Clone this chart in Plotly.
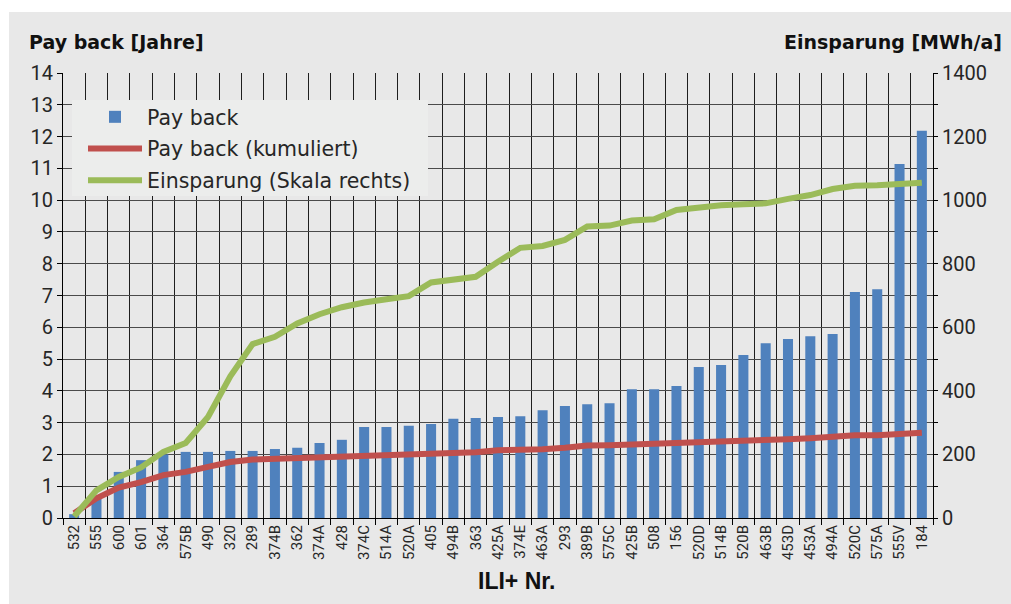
import plotly.graph_objects as go

# ILI+ project numbers, sorted by payback period
categories = ["532", "555", "600", "601", "364", "575B", "490", "320", "289", "374B",
              "362", "374A", "428", "374C", "514A", "520A", "405", "494B", "363", "425A",
              "374E", "463A", "293", "389B", "575C", "425B", "508", "156", "520D", "514B",
              "520B", "463B", "453D", "453A", "494A", "520C", "575A", "555V", "184"]

# Payback per project [years]
payback = [0.12, 0.70, 1.45, 1.82, 2.00, 2.08, 2.08, 2.11, 2.11, 2.17,
           2.21, 2.36, 2.46, 2.86, 2.86, 2.90, 2.96, 3.12, 3.15, 3.18,
           3.20, 3.39, 3.52, 3.58, 3.61, 4.05, 4.05, 4.15, 4.75, 4.81,
           5.13, 5.50, 5.63, 5.72, 5.79, 7.11, 7.20, 11.14, 12.18]

# Cumulative payback [years]
payback_cum = [0.15, 0.62, 0.96, 1.13, 1.35, 1.45, 1.61, 1.76, 1.84, 1.86,
               1.88, 1.89, 1.93, 1.95, 1.97, 1.97, 2.03, 2.05, 2.07, 2.13,
               2.14, 2.16, 2.21, 2.28, 2.29, 2.31, 2.32, 2.38, 2.39, 2.41,
               2.42, 2.45, 2.48, 2.51, 2.57, 2.60, 2.60, 2.62, 2.68]

# Cumulative savings [MWh/a], right-hand scale
savings = [5, 87, 129, 159, 208, 236, 318, 446, 547, 570,
           612, 641, 663, 678, 688, 698, 741, 749, 759, 806,
           850, 856, 875, 917, 920, 936, 940, 969, 978, 984,
           987, 990, 1004, 1016, 1035, 1045, 1047, 1050, 1055]

left_ticks = list(range(0, 15))
right_ticks = list(range(0, 1401, 100))
right_labels = [str(v) if v % 200 == 0 else "" for v in right_ticks]

BLUE = "#4f81bd"
RED = "#c0504d"
GREEN = "#9bbb59"
FONT = "Roboto, 'Liberation Sans', sans-serif"
WIDE_FONT = "'DejaVu Sans', 'Liberation Sans', sans-serif"
TXT = "#262626"

fig = go.Figure()

fig.add_trace(go.Bar(
    x=categories, y=payback, name="Pay back",
    marker=dict(color=BLUE, line=dict(width=0)),
    legendgroup="a", yaxis="y",
))
fig.add_trace(go.Scatter(
    x=categories, y=payback_cum, name="Pay back (kumuliert)",
    mode="lines", line=dict(color=RED, width=6),
    legendgroup="b", yaxis="y",
))
fig.add_trace(go.Scatter(
    x=categories, y=savings, name="Einsparung (Skala rechts)",
    mode="lines", line=dict(color=GREEN, width=6),
    legendgroup="c", yaxis="y2",
))

L, R, T, B = 63, 78, 73, 86
W, H = 1011, 604
pw, ph = W - L - R, H - T - B


def px_x(px):
    return (px - L) / pw


def px_y(py):
    return (H - B - py) / ph


fig.update_layout(
    width=W, height=H,
    margin=dict(l=L, r=R, t=T, b=B, pad=0),
    paper_bgcolor="white",
    plot_bgcolor="rgba(0,0,0,0)",
    bargap=0.55,
    font=dict(family=FONT, color=TXT, size=18),
    xaxis=dict(
        type="category", tickson="boundaries", showgrid=True,
        gridcolor="#1e1e1e", gridwidth=1,
        ticks="outside", ticklen=6, tickcolor="#000",
        tickangle=-90, tickfont=dict(size=15, color=TXT),
        showline=True, linecolor="#000", linewidth=1,
        range=[-0.5, len(categories) - 0.5],
    ),
    yaxis=dict(
        range=[0, 14], tickvals=left_ticks,
        showgrid=True, gridcolor="#4a4a4a", gridwidth=1.2,
        zeroline=False, showline=True, linecolor="#000", linewidth=1,
        ticks="outside", ticklen=5, tickcolor="#000",
        tickfont=dict(size=20, color=TXT),
    ),
    yaxis2=dict(
        range=[0, 1400], overlaying="y", side="right",
        tickvals=right_ticks, ticktext=right_labels,
        showgrid=False, zeroline=False,
        showline=True, linecolor="#000", linewidth=1,
        ticks="outside", ticklen=4, tickcolor="#000",
        tickfont=dict(size=20, color=TXT),
    ),
    showlegend=True,
    legend=dict(
        x=px_x(83), y=px_y(97), xanchor="left", yanchor="top",
        bgcolor="rgba(0,0,0,0)", borderwidth=0,
        font=dict(size=20.5, color=TXT, family=WIDE_FONT),
        traceorder="grouped", tracegroupgap=2,
        itemwidth=54,
    ),
    shapes=[
        # light grey panel behind the whole chart
        dict(type="rect", xref="paper", yref="paper", layer="below",
             x0=px_x(9), x1=px_x(W + 5), y0=px_y(H + 5), y1=px_y(12),
             fillcolor="#e8e8e8", line=dict(width=0)),
        # legend box
        dict(type="rect", xref="paper", yref="paper", layer="above",
             x0=px_x(72), x1=px_x(428), y0=px_y(196), y1=px_y(100),
             fillcolor="#ecedec", line=dict(width=0)),
    ],
    annotations=[
        dict(text="<b>Pay back [Jahre]</b>", xref="paper", yref="paper",
             x=px_x(27), y=px_y(42), xanchor="left", yanchor="middle",
             showarrow=False, font=dict(size=19, color="#111", family=WIDE_FONT)),
        dict(text="<b>Einsparung [MWh/a]</b>", xref="paper", yref="paper",
             x=px_x(1004), y=px_y(42), xanchor="right", yanchor="middle",
             showarrow=False, font=dict(size=19, color="#111", family=WIDE_FONT)),
        dict(text="<b>ILI+ Nr.</b>", xref="paper", yref="paper",
             x=px_x(516), y=px_y(581), xanchor="center", yanchor="middle",
             showarrow=False,
             font=dict(size=23, color="#111", family="'Liberation Sans', Arial, sans-serif")),
    ],
)

fig.write_html("out.html")
